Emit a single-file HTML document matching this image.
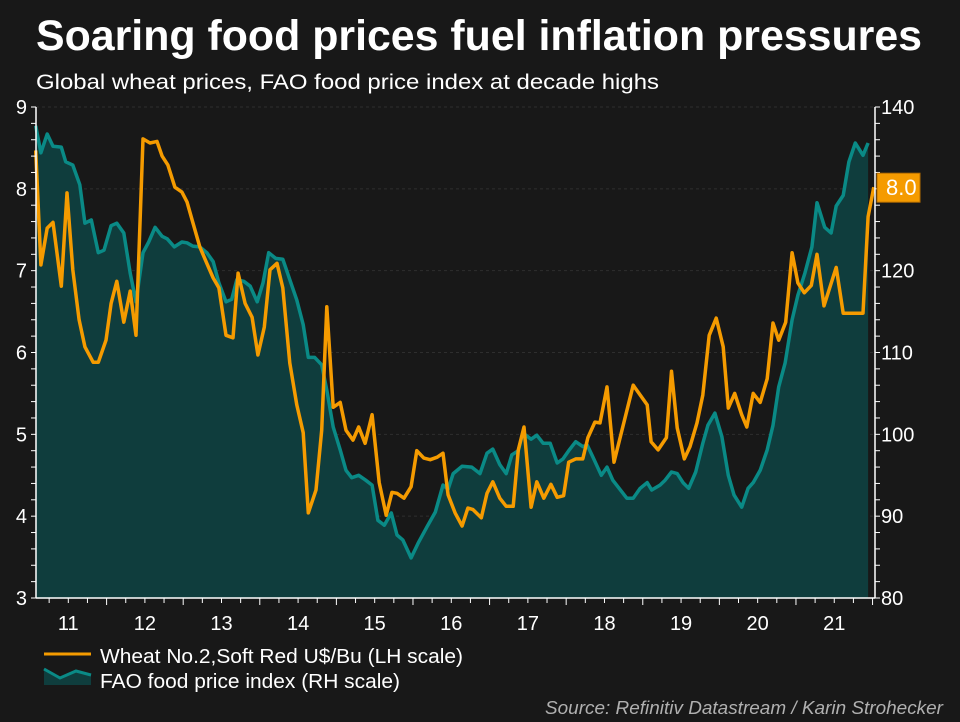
<!DOCTYPE html>
<html><head><meta charset="utf-8">
<style>
html,body{margin:0;padding:0;background:#181818;}
#wrap{position:relative;width:960px;height:722px;background:#181818;font-family:"Liberation Sans",Arial,sans-serif;overflow:hidden;}
svg text{font-family:"Liberation Sans",Arial,sans-serif;}
</style></head>
<body>
<div id="wrap">
<svg id="chart" width="960" height="722">
  <text x="36" y="50" fill="#fff" font-size="42.5" font-weight="bold" textLength="886" lengthAdjust="spacingAndGlyphs">Soaring food prices fuel inflation pressures</text>
  <text x="36" y="89" fill="#fff" font-size="21" textLength="623" lengthAdjust="spacingAndGlyphs">Global wheat prices, FAO food price index at decade highs</text>
  <g id="grid"></g>
  <g id="area"></g>
  <g id="lines"></g>
  <g id="axes"></g>
  <g>
    <line x1="44" y1="654" x2="91" y2="654" stroke="#f59b00" stroke-width="3"/>
    <text x="100" y="663" fill="#fff" font-size="20" textLength="363" lengthAdjust="spacingAndGlyphs">Wheat No.2,Soft Red U$/Bu (LH scale)</text>
    <polygon points="44,669 60,678 76,671 91,675 91,685 44,685" fill="#0f3d3d"/>
    <polyline points="44,669 60,678 76,671 91,675" fill="none" stroke="#0a8a86" stroke-width="3"/>
    <text x="100" y="688" fill="#fff" font-size="20" textLength="300" lengthAdjust="spacingAndGlyphs">FAO food price index (RH scale)</text>
  </g>
  <text x="943" y="714" fill="#b0b0b0" font-size="18" font-style="italic" text-anchor="end" textLength="398" lengthAdjust="spacingAndGlyphs">Source: Refinitiv Datastream / Karin Strohecker</text>
</svg>
</div>
<script>
// Data: months since Jan 2011
const wheatMonths=[0.9,1.7,2.7,3.6,4.9,5.8,6.7,7.7,8.6,9.9,10.7,11.9,12.7,13.6,14.7,15.7,16.6,17.7,18.8,19.9,20.7,21.6,22.7,23.8,24.6,25.5,26.6,27.7,28.7,29.6,30.7,31.8,32.6,33.7,34.8,35.7,36.7,37.6,38.7,39.6,40.7,41.8,42.8,43.6,44.8,45.7,46.5,47.5,48.6,49.5,50.6,51.5,52.5,53.6,54.7,55.8,56.7,57.5,58.6,59.7,60.6,61.7,62.7,63.8,64.7,65.5,66.6,67.7,68.6,69.4,70.7,71.6,72.5,73.6,74.6,75.7,76.5,77.4,78.5,79.4,80.5,81.6,82.6,83.6,84.4,85.5,86.6,87.4,88.5,89.3,90.4,91.5,94.5,96.7,97.3,98.4,99.7,100.5,101.4,102.5,103.4,104.5,105.4,106.4,107.5,108.6,109.4,110.4,111.5,112.3,113.3,114.4,115.5,116.4,117.3,118.4,119.4,120.3,121.3,122.4,123.3,124.4,126.3,127.4,130.5,131.3,132.2];
const wheatValues=[8.47,7.07,7.52,7.59,6.81,7.95,7.01,6.40,6.07,5.88,5.88,6.15,6.60,6.87,6.37,6.75,6.21,8.61,8.56,8.58,8.40,8.29,8.02,7.96,7.84,7.59,7.29,7.09,6.91,6.79,6.21,6.18,6.97,6.60,6.43,5.97,6.31,7.01,7.09,6.79,5.87,5.36,5.02,4.04,4.32,5.05,6.56,5.33,5.39,5.05,4.93,5.09,4.89,5.24,4.41,4.01,4.29,4.28,4.22,4.36,4.80,4.71,4.69,4.72,4.77,4.26,4.04,3.88,4.10,4.08,3.98,4.28,4.42,4.22,4.12,4.12,4.81,5.09,4.11,4.42,4.22,4.39,4.23,4.25,4.66,4.70,4.70,4.96,5.15,5.14,5.58,4.66,5.60,5.36,4.91,4.81,4.96,5.77,5.08,4.70,4.85,5.14,5.48,6.21,6.42,6.07,5.32,5.50,5.24,5.09,5.50,5.39,5.68,6.36,6.15,6.37,7.22,6.85,6.73,6.82,7.20,6.57,7.04,6.48,6.48,7.66,8.02];
const faoMonths=[0.9,1.7,2.7,3.6,4.9,5.6,6.7,7.8,8.6,9.6,10.7,11.6,12.7,13.6,14.7,15.7,16.6,17.7,18.6,19.6,20.7,21.5,22.6,23.8,24.6,25.5,26.6,27.7,28.7,29.6,30.7,31.6,32.4,33.5,34.5,35.6,36.5,37.4,38.5,39.6,40.7,41.8,42.8,43.6,44.6,45.7,46.5,47.5,48.6,49.5,50.4,51.5,52.6,53.6,54.5,55.5,56.6,57.5,58.4,59.7,60.8,62.2,63.5,64.7,65.5,66.3,67.7,69.2,70.5,71.6,72.5,73.6,74.6,75.5,76.5,77.2,78.5,79.4,80.4,81.5,82.6,83.5,84.4,85.5,86.6,87.3,88.2,89.5,90.4,91.3,93.5,94.5,95.6,96.7,97.4,98.7,99.5,100.5,101.4,102.3,103.2,104.3,105.4,106.2,107.3,108.4,109.4,110.3,111.5,112.5,113.3,114.4,115.5,116.4,117.3,118.3,119.4,120.3,121.4,122.5,123.3,124.5,125.5,126.3,127.4,128.3,129.3,130.5,131.3];
const faoValues=[137.7,134.4,136.7,135.2,135.1,133.3,132.9,130.5,125.8,126.2,122.2,122.5,125.5,125.8,124.6,119.7,116.2,122.2,123.5,125.3,124.2,123.9,122.9,123.5,123.4,123.0,122.9,122.2,121.1,118.5,116.2,116.5,118.9,118.7,118.1,116.2,118.5,122.2,121.5,121.4,118.9,116.4,113.4,109.4,109.4,108.5,105.4,100.9,98.1,95.6,94.7,95.0,94.4,93.8,89.5,88.9,90.4,87.7,87.1,84.9,86.7,88.7,90.5,93.8,93.3,95.2,96.1,96.0,95.2,97.7,98.2,96.3,95.2,97.5,98.0,100.2,99.4,99.9,98.9,98.9,96.5,97.0,98.0,99.1,98.5,98.7,97.2,95.0,96.0,94.4,92.2,92.2,93.4,94.1,93.2,93.8,94.4,95.4,95.2,94.1,93.4,95.4,98.9,101.1,102.6,99.7,95.0,92.6,91.1,93.4,94.1,95.6,98.1,101.1,105.8,108.7,114.0,117.0,119.7,122.9,128.3,125.3,124.6,127.9,129.2,133.3,135.6,134.1,135.6];
const yearLabels=["11","12","13","14","15","16","17","18","19","20","21"];
const leftTicks=[3,4,5,6,7,8,9];
const rightTicks=[80,90,100,110,120,140];

const X0=36,X1=875,Y0=107,Y1=598;
const xS=m=>30+m*6.383;
const yL=v=>Y0+(9-v)/6*(Y1-Y0);
const yR=v=>Y0+(140-v)/60*(Y1-Y0);
const NS="http://www.w3.org/2000/svg";
function mk(tag,attrs,parent){const e=document.createElementNS(NS,tag);for(const k in attrs)e.setAttribute(k,attrs[k]);parent.appendChild(e);return e;}
const grid=document.getElementById('grid'),area=document.getElementById('area'),lines=document.getElementById('lines'),axes=document.getElementById('axes');

leftTicks.forEach(v=>{
  const g=mk('line',{x1:X0,x2:X1,y1:yL(v),y2:yL(v),stroke:'#2e2e2e','stroke-dasharray':'3,3'},grid);
  
  
  const t=mk('text',{x:27,y:yL(v)+7,fill:'#fff','font-size':20,'text-anchor':'end'},axes);
  t.textContent=v;
  
  
});
for(let v=3;v<=9.001;v+=0.2){mk('line',{x1:31,x2:X0,y1:yL(v),y2:yL(v),stroke:'#fff','stroke-width':1},axes);}
rightTicks.forEach(v=>{
  const t=mk('text',{x:881,y:yR(v)+7,fill:'#fff','font-size':20},axes);
  t.textContent=v;
  
  
});
for(let v=80;v<=140;v+=2){mk('line',{x1:X1,x2:X1+5,y1:yR(v),y2:yR(v),stroke:'#fff','stroke-width':1},axes);}
let pts=faoMonths.map((m,i)=>xS(m).toFixed(1)+','+yR(faoValues[i]).toFixed(1));
const poly=mk('polygon',{points:xS(faoMonths[0]).toFixed(1)+','+Y1+' '+pts.join(' ')+' '+xS(faoMonths[faoMonths.length-1]).toFixed(1)+','+Y1,fill:'#0f3d3d'},area);


const fl=mk('polyline',{points:pts.join(' '),fill:'none',stroke:'#0a8a86','stroke-width':3.5,'stroke-linejoin':'round'},lines);


const wp=wheatMonths.map((m,i)=>xS(m).toFixed(1)+','+yL(wheatValues[i]).toFixed(1));
const wl=mk('polyline',{points:wp.join(' '),fill:'none',stroke:'#f59b00','stroke-width':3.5,'stroke-linejoin':'round'},lines);


mk('line',{x1:X0,x2:X0,y1:Y0,y2:Y1,stroke:'#fff','stroke-width':1.5},axes);
mk('line',{x1:X1,x2:X1,y1:Y0,y2:Y1,stroke:'#fff','stroke-width':1.5},axes);
mk('line',{x1:X0,x2:X1,y1:Y1,y2:Y1,stroke:'#fff','stroke-width':1.5},axes);
for(let m=0;m<=132;m+=3){const x=xS(m);if(x<X0||x>X1)continue;mk('line',{x1:x,x2:x,y1:Y1,y2:Y1+(m%12===0?7:5),stroke:'#fff','stroke-width':1},axes);}
yearLabels.forEach((l,i)=>{
  const t=mk('text',{x:xS(i*12+6),y:630,fill:'#fff','font-size':20,'text-anchor':'middle'},axes);
  t.textContent=l;
  
  
});
const last=wheatValues[wheatValues.length-1];
const by=yL(last);
const badge=mk('rect',{x:877,y:by-14,width:43,height:29,fill:'#f59b00',stroke:'#b36b00','stroke-width':1},axes);


const bt=mk('text',{x:886,y:by+8,fill:'#fff','font-size':22},axes);
bt.textContent=last.toFixed(1);


</script>
</body></html>
